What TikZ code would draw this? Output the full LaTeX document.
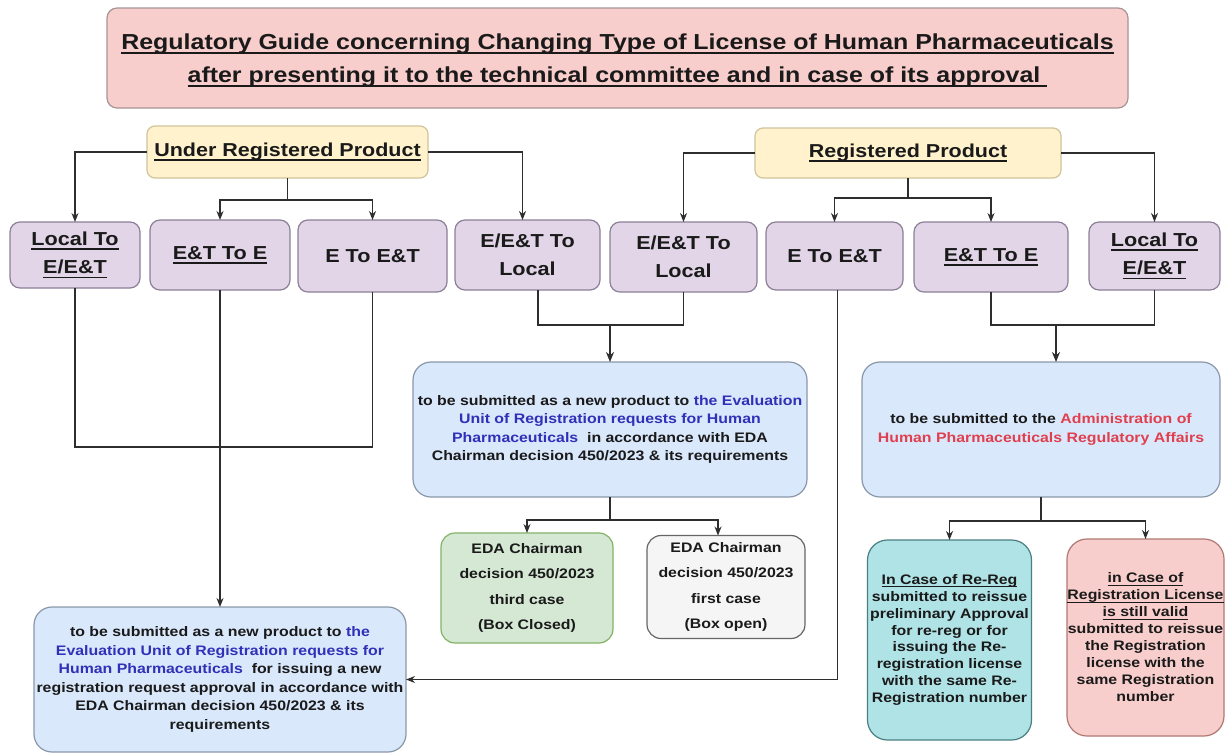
\documentclass[tikz,border=0pt]{standalone}
\usepackage{fontspec}
\setmainfont{Liberation Sans}[FakeStretch=1.15]
\usetikzlibrary{arrows.meta}
\newcommand\ulthick{1pt}
\newcommand\uln[1]{\leavevmode\setbox0=\hbox{#1}\rlap{\rule[-0.22em]{\wd0}{\ulthick}}\box0}
\definecolor{txt}{HTML}{1A1A1A}
\definecolor{lncol}{HTML}{2E2E2E}
\definecolor{titlefill}{HTML}{F8CECC}
\definecolor{titledraw}{HTML}{A89494}
\definecolor{hdrfill}{HTML}{FFF2CC}
\definecolor{hdrdraw}{HTML}{D0C49A}
\definecolor{optfill}{HTML}{E1D5E7}
\definecolor{optdraw}{HTML}{8C8098}
\definecolor{infofill}{HTML}{DAE8FC}
\definecolor{infodraw}{HTML}{8A97A8}
\definecolor{greenfill}{HTML}{D5E8D4}
\definecolor{greendraw}{HTML}{82B366}
\definecolor{grayfill}{HTML}{F5F5F5}
\definecolor{graydraw}{HTML}{666666}
\definecolor{tealfill}{HTML}{B0E3E6}
\definecolor{tealdraw}{HTML}{4A7F82}
\definecolor{pinkfill}{HTML}{F8CECC}
\definecolor{pinkdraw}{HTML}{B07874}
\definecolor{tblue}{HTML}{3030B8}
\definecolor{tred}{HTML}{E0404E}
\begin{document}
\begin{tikzpicture}[x=1pt,y=-1pt,
  boxbase/.style={rounded corners=10pt, line width=1.2pt, align=center, inner sep=0pt, outer sep=0pt, text=txt},
  titlebox/.style={boxbase, fill=titlefill, draw=titledraw, font=\fontsize{21.7}{33.4}\selectfont\bfseries\renewcommand\ulthick{2pt}},
  hdr/.style={boxbase, rounded corners=8pt, fill=hdrfill, draw=hdrdraw, font=\fontsize{18.7}{24}\selectfont\bfseries\renewcommand\ulthick{1.6pt}},
  opt/.style={boxbase, fill=optfill, draw=optdraw, font=\fontsize{18.8}{28.5}\selectfont\bfseries\renewcommand\ulthick{1.6pt}},
  info/.style={boxbase, rounded corners=18pt, fill=infofill, draw=infodraw},
  greenbox/.style={boxbase, rounded corners=14pt, fill=greenfill, draw=greendraw, font=\fontsize{13.8}{25.5}\selectfont\bfseries},
  graybox/.style={boxbase, rounded corners=14pt, fill=grayfill, draw=graydraw, font=\fontsize{13.8}{25.5}\selectfont\bfseries},
  tealbox/.style={boxbase, rounded corners=20pt, fill=tealfill, draw=tealdraw, font=\fontsize{13.8}{16.9}\selectfont\bfseries\renewcommand\ulthick{1.1pt}},
  pinkbox/.style={boxbase, rounded corners=20pt, fill=pinkfill, draw=pinkdraw, font=\fontsize{13.8}{17}\selectfont\bfseries\renewcommand\ulthick{1.1pt}},
  conn/.style={draw=lncol, line width=1.3pt},
  arr/.style={conn, -{Stealth[length=9pt,width=7pt]}},
  thickarr/.style={conn, line width=2pt, -{Stealth[length=10pt,width=8pt]}}
]
\useasboundingbox (0,0) rectangle (1225,755);
\fill[white] (0,0) rectangle (1225,755);

% title
\node[titlebox, minimum width=1021, minimum height=100] (title) at (617.5,58)
  {\rule{0pt}{20.6pt}\uln{Regulatory Guide concerning Changing Type of License of Human Pharmaceuticals}\\
   \uln{after presenting it to the technical committee and in case of its approval\ }};

% headers
\node[hdr, minimum width=281, minimum height=52] (ur) at (287.5,152) {\uln{Under Registered Product}};
\node[hdr, minimum width=306, minimum height=50] (rp) at (908,153) {\uln{Registered Product}};

% option boxes left
\node[opt, minimum width=130, minimum height=66] (l1) at (75,255) {\uln{Local To}\\\uln{E/E\&T}};
\node[opt, minimum width=140, minimum height=70] (l2) at (220,255) {\uln{E\&T To E}};
\node[opt, minimum width=149, minimum height=72] (l3) at (372.5,256) {E To E\&T};
\node[opt, minimum width=145, minimum height=70] (l4) at (527.5,255) {E/E\&T To\\Local};
% option boxes right
\node[opt, minimum width=147, minimum height=70] (r1) at (683.5,257) {E/E\&T To\\Local};
\node[opt, minimum width=137, minimum height=68] (r2) at (834.5,256) {E To E\&T};
\node[opt, minimum width=154, minimum height=70] (r3) at (991,257) {\uln{E\&T To E}};
\node[opt, minimum width=131, minimum height=68] (r4) at (1154.5,256) {\uln{Local To}\\\uln{E/E\&T}};

% info boxes
\node[info, minimum width=394, minimum height=135, font=\fontsize{13.8}{18.3}\selectfont\bfseries] (mb) at (610,429.5)
  {to be submitted as a new product to \textcolor{tblue}{the Evaluation}\\
   \textcolor{tblue}{Unit of Registration requests for Human}\\
   \textcolor{tblue}{Pharmaceuticals}\ \ in accordance with EDA\\
   Chairman decision 450/2023 \& its requirements};
\node[info, minimum width=358, minimum height=135, font=\fontsize{13.8}{19}\selectfont\bfseries] (rb) at (1041,429.5)
  {to be submitted to the \textcolor{tred}{Administration of}\\
   \textcolor{tred}{Human Pharmaceuticals Regulatory Affairs}};
\node[info, minimum width=372, minimum height=145, font=\fontsize{13.8}{18.5}\selectfont\bfseries] (bl) at (220,679.5)
  {to be submitted as a new product to \textcolor{tblue}{the}\\
   \textcolor{tblue}{Evaluation Unit of Registration requests for}\\
   \textcolor{tblue}{Human Pharmaceuticals}\ \ for issuing a new\\
   registration request approval in accordance with\\
   EDA Chairman decision 450/2023 \& its\\
   requirements};

\node[greenbox, minimum width=172, minimum height=110] (gb) at (527,588)
  {EDA Chairman\\decision 450/2023\\third case\\(Box Closed)};
\node[graybox, minimum width=158, minimum height=103] (yb) at (726,587)
  {EDA Chairman\\decision 450/2023\\first case\\(Box open)};

\node[tealbox, minimum width=164, minimum height=200] (tb) at (949.5,640)
  {\uln{In Case of Re-Reg}\\submitted to reissue\\preliminary Approval\\for re-reg or for\\issuing the Re-\\registration license\\with the same Re-\\Registration number};
\node[pinkbox, minimum width=157, minimum height=197] (pb) at (1145.5,637.5)
  {\uln{in Case of}\\\uln{Registration License}\\\uln{is still valid}\\submitted to reissue\\the Registration\\license with the\\same Registration\\number};

% connectors: under registered
\coordinate (ujn) at (287.5,200);
\draw[arr] (ur.west) -| (l1.north);
\draw[arr] (ur.east) -| ([xshift=-5]l4.north);
\draw[conn] (ur.south) -- (ujn);
\draw[arr] (ujn) -| (l2.north);
\draw[arr] (ujn) -| (l3.north);

% connectors: registered
\coordinate (rjn) at (908,198);
\draw[arr] (rp.west) -| (r1.north);
\draw[arr] (rp.east) -| (r4.north);
\draw[conn] (rp.south) -- (rjn);
\draw[arr] (rjn) -| (r2.north);
\draw[arr] (rjn) -| (r3.north);

% left bottom group
\coordinate (lj) at (220,447);
\draw[conn] (l1.south) |- (lj);
\draw[conn] (l3.south) |- (lj);
\draw[arr] (l2.south) -- (bl.north);

% middle group
\coordinate (mj) at (610,325);
\draw[conn] ([xshift=10.5]l4.south) |- (mj);
\draw[conn] (r1.south) |- (mj);
\draw[thickarr] (mj) -- (mb.north);

% right group
\coordinate (rj) at (1056,325);
\draw[conn] (r3.south) |- (rj);
\draw[conn] (r4.south) |- (rj);
\draw[thickarr] (rj) -- (rj |- rb.north);

% E To E&T (registered) to bottom-left box
\draw[arr] ([xshift=3]r2.south) |- (bl.east);

% middle box to decisions
\coordinate (mj2) at (610,520);
\draw[conn] (mb.south) -- (mj2);
\draw[arr] (mj2) -| (gb.north);
\draw[arr] (mj2) -| ([xshift=-8]yb.north);

% right box to cases
\coordinate (rj2) at (1041,521);
\draw[conn] (rb.south) -- (rj2);
\draw[arr] (rj2) -| (tb.north);
\draw[arr] (rj2) -| (pb.north);
\end{tikzpicture}
\end{document}
